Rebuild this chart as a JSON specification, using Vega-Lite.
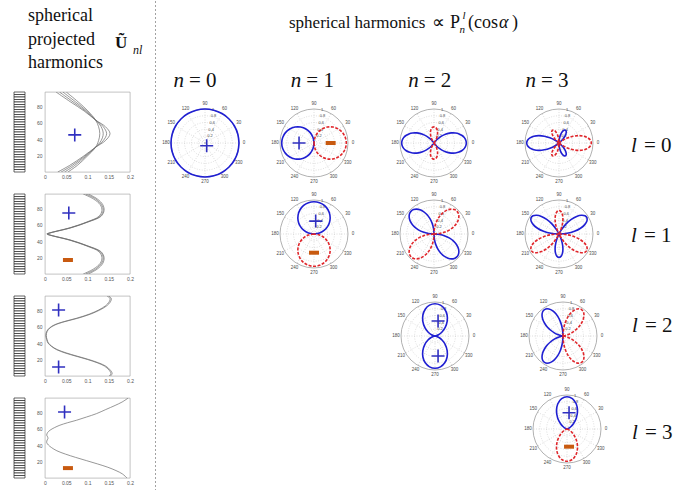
{
"$schema": "https://vega.github.io/schema/vega-lite/v6.json",
"padding": 0,
"background": "white",
"config": {"view": {"stroke": null}, "font": "Liberation Serif"},
"datasets": {
"rings": [{"r":0.2,"x":0,"y":0},{"r":0.4,"x":0,"y":0},{"r":0.6,"x":0,"y":0},{"r":0.8,"x":0,"y":0}],
"rim": [{"r":1,"x":0,"y":0}],
"spokes": [{"x":0,"y":0,"x2":1,"y2":0},{"x":0,"y":0,"x2":0.866,"y2":0.5},{"x":0,"y":0,"x2":0.5,"y2":0.866},{"x":0,"y":0,"x2":0,"y2":1},{"x":0,"y":0,"x2":-0.5,"y2":0.866},{"x":0,"y":0,"x2":-0.866,"y2":0.5},{"x":0,"y":0,"x2":-1,"y2":0},{"x":0,"y":0,"x2":-0.866,"y2":-0.5},{"x":0,"y":0,"x2":-0.5,"y2":-0.866},{"x":0,"y":0,"x2":0,"y2":-1},{"x":0,"y":0,"x2":0.5,"y2":-0.866},{"x":0,"y":0,"x2":0.866,"y2":-0.5}],
"alab": [{"t":"0","x":1.15,"y":0},{"t":"30","x":0.996,"y":0.575},{"t":"60","x":0.575,"y":0.996},{"t":"90","x":0,"y":1.15},{"t":"120","x":-0.575,"y":0.996},{"t":"150","x":-0.996,"y":0.575},{"t":"180","x":-1.15,"y":0},{"t":"210","x":-0.996,"y":-0.575},{"t":"240","x":-0.575,"y":-0.996},{"t":"270","x":0,"y":-1.15},{"t":"300","x":0.575,"y":-0.996},{"t":"330","x":0.996,"y":-0.575}],
"rlab": [{"t":"0.2","x":0.035,"y":0.197},{"t":"0.4","x":0.069,"y":0.394},{"t":"0.6","x":0.104,"y":0.591},{"t":"0.8","x":0.139,"y":0.788},{"t":"1","x":0.174,"y":0.985}],
"pos": [
{"p":"00","g":"a","x":1,"y":0},{"p":"00","g":"a","x":0.966,"y":0.259},{"p":"00","g":"a","x":0.866,"y":0.5},{"p":"00","g":"a","x":0.707,"y":0.707},{"p":"00","g":"a","x":0.5,"y":0.866},{"p":"00","g":"a","x":0.259,"y":0.966},{"p":"00","g":"a","x":0,"y":1},{"p":"00","g":"a","x":-0.259,"y":0.966},{"p":"00","g":"a","x":-0.5,"y":0.866},{"p":"00","g":"a","x":-0.707,"y":0.707},{"p":"00","g":"a","x":-0.866,"y":0.5},{"p":"00","g":"a","x":-0.966,"y":0.259},{"p":"00","g":"a","x":-1,"y":0},{"p":"00","g":"a","x":-0.966,"y":-0.259},{"p":"00","g":"a","x":-0.866,"y":-0.5},{"p":"00","g":"a","x":-0.707,"y":-0.707},{"p":"00","g":"a","x":-0.5,"y":-0.866},{"p":"00","g":"a","x":-0.259,"y":-0.966},{"p":"00","g":"a","x":0,"y":-1},{"p":"00","g":"a","x":0.259,"y":-0.966},{"p":"00","g":"a","x":0.5,"y":-0.866},{"p":"00","g":"a","x":0.707,"y":-0.707},{"p":"00","g":"a","x":0.866,"y":-0.5},{"p":"00","g":"a","x":0.966,"y":-0.259},{"p":"00","g":"a","x":1,"y":0},
{"p":"10","g":"a","x":0,"y":0},{"p":"10","g":"a","x":-0.029,"y":-0.163},{"p":"10","g":"a","x":-0.111,"y":-0.305},{"p":"10","g":"a","x":-0.238,"y":-0.411},{"p":"10","g":"a","x":-0.393,"y":-0.468},{"p":"10","g":"a","x":-0.557,"y":-0.468},{"p":"10","g":"a","x":-0.713,"y":-0.411},{"p":"10","g":"a","x":-0.839,"y":-0.305},{"p":"10","g":"a","x":-0.921,"y":-0.163},{"p":"10","g":"a","x":-0.95,"y":0},{"p":"10","g":"a","x":-0.921,"y":0.163},{"p":"10","g":"a","x":-0.839,"y":0.305},{"p":"10","g":"a","x":-0.713,"y":0.411},{"p":"10","g":"a","x":-0.557,"y":0.468},{"p":"10","g":"a","x":-0.393,"y":0.468},{"p":"10","g":"a","x":-0.238,"y":0.411},{"p":"10","g":"a","x":-0.111,"y":0.305},{"p":"10","g":"a","x":-0.029,"y":0.163},{"p":"10","g":"a","x":0,"y":0},
{"p":"11","g":"a","x":0,"y":0},{"p":"11","g":"a","x":-0.163,"y":0.029},{"p":"11","g":"a","x":-0.305,"y":0.111},{"p":"11","g":"a","x":-0.411,"y":0.238},{"p":"11","g":"a","x":-0.468,"y":0.393},{"p":"11","g":"a","x":-0.468,"y":0.557},{"p":"11","g":"a","x":-0.411,"y":0.713},{"p":"11","g":"a","x":-0.305,"y":0.839},{"p":"11","g":"a","x":-0.163,"y":0.921},{"p":"11","g":"a","x":0,"y":0.95},{"p":"11","g":"a","x":0.163,"y":0.921},{"p":"11","g":"a","x":0.305,"y":0.839},{"p":"11","g":"a","x":0.411,"y":0.713},{"p":"11","g":"a","x":0.468,"y":0.557},{"p":"11","g":"a","x":0.468,"y":0.393},{"p":"11","g":"a","x":0.411,"y":0.238},{"p":"11","g":"a","x":0.305,"y":0.111},{"p":"11","g":"a","x":0.163,"y":0.029},{"p":"11","g":"a","x":0,"y":0},
{"p":"20","g":"a","x":0,"y":0},{"p":"20","g":"a","x":0.073,"y":-0.087},{"p":"20","g":"a","x":0.168,"y":-0.168},{"p":"20","g":"a","x":0.277,"y":-0.232},{"p":"20","g":"a","x":0.394,"y":-0.276},{"p":"20","g":"a","x":0.514,"y":-0.297},{"p":"20","g":"a","x":0.63,"y":-0.294},{"p":"20","g":"a","x":0.736,"y":-0.268},{"p":"20","g":"a","x":0.825,"y":-0.221},{"p":"20","g":"a","x":0.893,"y":-0.158},{"p":"20","g":"a","x":0.935,"y":-0.082},{"p":"20","g":"a","x":0.95,"y":0},{"p":"20","g":"a","x":0.935,"y":0.082},{"p":"20","g":"a","x":0.893,"y":0.158},{"p":"20","g":"a","x":0.825,"y":0.221},{"p":"20","g":"a","x":0.736,"y":0.268},{"p":"20","g":"a","x":0.63,"y":0.294},{"p":"20","g":"a","x":0.514,"y":0.297},{"p":"20","g":"a","x":0.394,"y":0.276},{"p":"20","g":"a","x":0.277,"y":0.232},{"p":"20","g":"a","x":0.168,"y":0.168},{"p":"20","g":"a","x":0.073,"y":0.087},{"p":"20","g":"a","x":0,"y":0},
{"p":"20","g":"b","x":0,"y":0},{"p":"20","g":"b","x":-0.073,"y":-0.087},{"p":"20","g":"b","x":-0.168,"y":-0.168},{"p":"20","g":"b","x":-0.277,"y":-0.232},{"p":"20","g":"b","x":-0.394,"y":-0.276},{"p":"20","g":"b","x":-0.514,"y":-0.297},{"p":"20","g":"b","x":-0.63,"y":-0.294},{"p":"20","g":"b","x":-0.736,"y":-0.268},{"p":"20","g":"b","x":-0.825,"y":-0.221},{"p":"20","g":"b","x":-0.893,"y":-0.158},{"p":"20","g":"b","x":-0.935,"y":-0.082},{"p":"20","g":"b","x":-0.95,"y":0},{"p":"20","g":"b","x":-0.935,"y":0.082},{"p":"20","g":"b","x":-0.893,"y":0.158},{"p":"20","g":"b","x":-0.825,"y":0.221},{"p":"20","g":"b","x":-0.736,"y":0.268},{"p":"20","g":"b","x":-0.63,"y":0.294},{"p":"20","g":"b","x":-0.514,"y":0.297},{"p":"20","g":"b","x":-0.394,"y":0.276},{"p":"20","g":"b","x":-0.277,"y":0.232},{"p":"20","g":"b","x":-0.168,"y":0.168},{"p":"20","g":"b","x":-0.073,"y":0.087},{"p":"20","g":"b","x":0,"y":0},
{"p":"21","g":"b","x":0,"y":0},{"p":"21","g":"b","x":-0.164,"y":0.014},{"p":"21","g":"b","x":-0.32,"y":0.056},{"p":"21","g":"b","x":-0.459,"y":0.123},{"p":"21","g":"b","x":-0.574,"y":0.209},{"p":"21","g":"b","x":-0.66,"y":0.308},{"p":"21","g":"b","x":-0.713,"y":0.411},{"p":"21","g":"b","x":-0.731,"y":0.512},{"p":"21","g":"b","x":-0.717,"y":0.601},{"p":"21","g":"b","x":-0.672,"y":0.672},{"p":"21","g":"b","x":-0.601,"y":0.717},{"p":"21","g":"b","x":-0.512,"y":0.731},{"p":"21","g":"b","x":-0.411,"y":0.713},{"p":"21","g":"b","x":-0.308,"y":0.66},{"p":"21","g":"b","x":-0.209,"y":0.574},{"p":"21","g":"b","x":-0.123,"y":0.459},{"p":"21","g":"b","x":-0.056,"y":0.32},{"p":"21","g":"b","x":-0.014,"y":0.164},{"p":"21","g":"b","x":0,"y":0},
{"p":"21","g":"d","x":0,"y":0},{"p":"21","g":"d","x":0.164,"y":-0.014},{"p":"21","g":"d","x":0.32,"y":-0.056},{"p":"21","g":"d","x":0.459,"y":-0.123},{"p":"21","g":"d","x":0.574,"y":-0.209},{"p":"21","g":"d","x":0.66,"y":-0.308},{"p":"21","g":"d","x":0.713,"y":-0.411},{"p":"21","g":"d","x":0.731,"y":-0.512},{"p":"21","g":"d","x":0.717,"y":-0.601},{"p":"21","g":"d","x":0.672,"y":-0.672},{"p":"21","g":"d","x":0.601,"y":-0.717},{"p":"21","g":"d","x":0.512,"y":-0.731},{"p":"21","g":"d","x":0.411,"y":-0.713},{"p":"21","g":"d","x":0.308,"y":-0.66},{"p":"21","g":"d","x":0.209,"y":-0.574},{"p":"21","g":"d","x":0.123,"y":-0.459},{"p":"21","g":"d","x":0.056,"y":-0.32},{"p":"21","g":"d","x":0.014,"y":-0.164},{"p":"21","g":"d","x":0,"y":0},
{"p":"22","g":"a","x":0,"y":0},{"p":"22","g":"a","x":0.028,"y":0.005},{"p":"22","g":"a","x":0.104,"y":0.038},{"p":"22","g":"a","x":0.206,"y":0.119},{"p":"22","g":"a","x":0.301,"y":0.252},{"p":"22","g":"a","x":0.358,"y":0.427},{"p":"22","g":"a","x":0.356,"y":0.617},{"p":"22","g":"a","x":0.287,"y":0.788},{"p":"22","g":"a","x":0.16,"y":0.907},{"p":"22","g":"a","x":0,"y":0.95},{"p":"22","g":"a","x":-0.16,"y":0.907},{"p":"22","g":"a","x":-0.287,"y":0.788},{"p":"22","g":"a","x":-0.356,"y":0.617},{"p":"22","g":"a","x":-0.358,"y":0.427},{"p":"22","g":"a","x":-0.301,"y":0.252},{"p":"22","g":"a","x":-0.206,"y":0.119},{"p":"22","g":"a","x":-0.104,"y":0.038},{"p":"22","g":"a","x":-0.028,"y":0.005},{"p":"22","g":"a","x":0,"y":0},
{"p":"22","g":"b","x":0,"y":0},{"p":"22","g":"b","x":0.028,"y":-0.005},{"p":"22","g":"b","x":0.104,"y":-0.038},{"p":"22","g":"b","x":0.206,"y":-0.119},{"p":"22","g":"b","x":0.301,"y":-0.252},{"p":"22","g":"b","x":0.358,"y":-0.427},{"p":"22","g":"b","x":0.356,"y":-0.617},{"p":"22","g":"b","x":0.287,"y":-0.788},{"p":"22","g":"b","x":0.16,"y":-0.907},{"p":"22","g":"b","x":0,"y":-0.95},{"p":"22","g":"b","x":-0.16,"y":-0.907},{"p":"22","g":"b","x":-0.287,"y":-0.788},{"p":"22","g":"b","x":-0.356,"y":-0.617},{"p":"22","g":"b","x":-0.358,"y":-0.427},{"p":"22","g":"b","x":-0.301,"y":-0.252},{"p":"22","g":"b","x":-0.206,"y":-0.119},{"p":"22","g":"b","x":-0.104,"y":-0.038},{"p":"22","g":"b","x":-0.028,"y":-0.005},{"p":"22","g":"b","x":0,"y":0},
{"p":"30","g":"a","x":0,"y":0},{"p":"30","g":"a","x":-0.113,"y":-0.079},{"p":"30","g":"a","x":-0.267,"y":-0.154},{"p":"30","g":"a","x":-0.432,"y":-0.201},{"p":"30","g":"a","x":-0.594,"y":-0.216},{"p":"30","g":"a","x":-0.738,"y":-0.198},{"p":"30","g":"a","x":-0.852,"y":-0.15},{"p":"30","g":"a","x":-0.925,"y":-0.081},{"p":"30","g":"a","x":-0.95,"y":0},{"p":"30","g":"a","x":-0.925,"y":0.081},{"p":"30","g":"a","x":-0.852,"y":0.15},{"p":"30","g":"a","x":-0.738,"y":0.198},{"p":"30","g":"a","x":-0.594,"y":0.216},{"p":"30","g":"a","x":-0.432,"y":0.201},{"p":"30","g":"a","x":-0.267,"y":0.154},{"p":"30","g":"a","x":-0.113,"y":0.079},{"p":"30","g":"a","x":0,"y":0},
{"p":"30","g":"b","x":0,"y":0},{"p":"30","g":"b","x":0.018,"y":-0.015},{"p":"30","g":"b","x":0.119,"y":-0.119},{"p":"30","g":"b","x":0.183,"y":-0.219},{"p":"30","g":"b","x":0.212,"y":-0.303},{"p":"30","g":"b","x":0.208,"y":-0.36},{"p":"30","g":"b","x":0.179,"y":-0.383},{"p":"30","g":"b","x":0.134,"y":-0.369},{"p":"30","g":"b","x":0.085,"y":-0.316},{"p":"30","g":"b","x":0.041,"y":-0.231},{"p":"30","g":"b","x":0.011,"y":-0.122},{"p":"30","g":"b","x":0,"y":0},
{"p":"30","g":"c","x":0,"y":0},{"p":"30","g":"c","x":0.018,"y":0.015},{"p":"30","g":"c","x":0.119,"y":0.119},{"p":"30","g":"c","x":0.183,"y":0.219},{"p":"30","g":"c","x":0.212,"y":0.303},{"p":"30","g":"c","x":0.208,"y":0.36},{"p":"30","g":"c","x":0.179,"y":0.383},{"p":"30","g":"c","x":0.134,"y":0.369},{"p":"30","g":"c","x":0.085,"y":0.316},{"p":"30","g":"c","x":0.041,"y":0.231},{"p":"30","g":"c","x":0.011,"y":0.122},{"p":"30","g":"c","x":0,"y":0},
{"p":"31","g":"a","x":0,"y":0},{"p":"31","g":"a","x":0.238,"y":0.021},{"p":"31","g":"a","x":0.454,"y":0.08},{"p":"31","g":"a","x":0.632,"y":0.169},{"p":"31","g":"a","x":0.757,"y":0.276},{"p":"31","g":"a","x":0.821,"y":0.383},{"p":"31","g":"a","x":0.822,"y":0.474},{"p":"31","g":"a","x":0.764,"y":0.535},{"p":"31","g":"a","x":0.657,"y":0.551},{"p":"31","g":"a","x":0.518,"y":0.518},{"p":"31","g":"a","x":0.362,"y":0.432},{"p":"31","g":"a","x":0.209,"y":0.299},{"p":"31","g":"a","x":0.075,"y":0.129},{"p":"31","g":"a","x":0,"y":0},
{"p":"31","g":"b","x":0,"y":0},{"p":"31","g":"b","x":-0.238,"y":0.021},{"p":"31","g":"b","x":-0.454,"y":0.08},{"p":"31","g":"b","x":-0.632,"y":0.169},{"p":"31","g":"b","x":-0.757,"y":0.276},{"p":"31","g":"b","x":-0.821,"y":0.383},{"p":"31","g":"b","x":-0.822,"y":0.474},{"p":"31","g":"b","x":-0.764,"y":0.535},{"p":"31","g":"b","x":-0.657,"y":0.551},{"p":"31","g":"b","x":-0.518,"y":0.518},{"p":"31","g":"b","x":-0.362,"y":0.432},{"p":"31","g":"b","x":-0.209,"y":0.299},{"p":"31","g":"b","x":-0.075,"y":0.129},{"p":"31","g":"b","x":0,"y":0},
{"p":"31","g":"c","x":0,"y":0},{"p":"31","g":"c","x":0.028,"y":-0.061},{"p":"31","g":"c","x":0.092,"y":-0.253},{"p":"31","g":"c","x":0.115,"y":-0.428},{"p":"31","g":"c","x":0.1,"y":-0.569},{"p":"31","g":"c","x":0.058,"y":-0.659},{"p":"31","g":"c","x":0,"y":-0.69},{"p":"31","g":"c","x":-0.058,"y":-0.659},{"p":"31","g":"c","x":-0.1,"y":-0.569},{"p":"31","g":"c","x":-0.115,"y":-0.428},{"p":"31","g":"c","x":-0.092,"y":-0.253},{"p":"31","g":"c","x":-0.028,"y":-0.061},{"p":"31","g":"c","x":0,"y":0},
{"p":"32","g":"a","x":0,"y":0},{"p":"32","g":"a","x":-0.019,"y":0.002},{"p":"32","g":"a","x":-0.072,"y":0.013},{"p":"32","g":"a","x":-0.154,"y":0.041},{"p":"32","g":"a","x":-0.255,"y":0.093},{"p":"32","g":"a","x":-0.362,"y":0.169},{"p":"32","g":"a","x":-0.463,"y":0.267},{"p":"32","g":"a","x":-0.545,"y":0.382},{"p":"32","g":"a","x":-0.598,"y":0.502},{"p":"32","g":"a","x":-0.617,"y":0.617},{"p":"32","g":"a","x":-0.598,"y":0.713},{"p":"32","g":"a","x":-0.545,"y":0.778},{"p":"32","g":"a","x":-0.463,"y":0.802},{"p":"32","g":"a","x":-0.362,"y":0.776},{"p":"32","g":"a","x":-0.255,"y":0.7},{"p":"32","g":"a","x":-0.154,"y":0.576},{"p":"32","g":"a","x":-0.072,"y":0.409},{"p":"32","g":"a","x":-0.019,"y":0.213},{"p":"32","g":"a","x":0,"y":0},
{"p":"32","g":"b","x":0,"y":0},{"p":"32","g":"b","x":-0.019,"y":-0.002},{"p":"32","g":"b","x":-0.072,"y":-0.013},{"p":"32","g":"b","x":-0.154,"y":-0.041},{"p":"32","g":"b","x":-0.255,"y":-0.093},{"p":"32","g":"b","x":-0.362,"y":-0.169},{"p":"32","g":"b","x":-0.463,"y":-0.267},{"p":"32","g":"b","x":-0.545,"y":-0.382},{"p":"32","g":"b","x":-0.598,"y":-0.502},{"p":"32","g":"b","x":-0.617,"y":-0.617},{"p":"32","g":"b","x":-0.598,"y":-0.713},{"p":"32","g":"b","x":-0.545,"y":-0.778},{"p":"32","g":"b","x":-0.463,"y":-0.802},{"p":"32","g":"b","x":-0.362,"y":-0.776},{"p":"32","g":"b","x":-0.255,"y":-0.7},{"p":"32","g":"b","x":-0.154,"y":-0.576},{"p":"32","g":"b","x":-0.072,"y":-0.409},{"p":"32","g":"b","x":-0.019,"y":-0.213},{"p":"32","g":"b","x":0,"y":0},
{"p":"33","g":"a","x":0,"y":0},{"p":"33","g":"a","x":0.005,"y":0.001},{"p":"33","g":"a","x":0.036,"y":0.013},{"p":"33","g":"a","x":0.103,"y":0.059},{"p":"33","g":"a","x":0.193,"y":0.162},{"p":"33","g":"a","x":0.275,"y":0.327},{"p":"33","g":"a","x":0.309,"y":0.534},{"p":"33","g":"a","x":0.27,"y":0.741},{"p":"33","g":"a","x":0.158,"y":0.894},{"p":"33","g":"a","x":0,"y":0.95},{"p":"33","g":"a","x":-0.158,"y":0.894},{"p":"33","g":"a","x":-0.27,"y":0.741},{"p":"33","g":"a","x":-0.309,"y":0.534},{"p":"33","g":"a","x":-0.275,"y":0.327},{"p":"33","g":"a","x":-0.193,"y":0.162},{"p":"33","g":"a","x":-0.103,"y":0.059},{"p":"33","g":"a","x":-0.036,"y":0.013},{"p":"33","g":"a","x":-0.005,"y":0.001},{"p":"33","g":"a","x":0,"y":0}
],
"neg": [
{"p":"10","g":"a","x":0,"y":0},{"p":"10","g":"a","x":0.029,"y":-0.163},{"p":"10","g":"a","x":0.111,"y":-0.305},{"p":"10","g":"a","x":0.238,"y":-0.411},{"p":"10","g":"a","x":0.393,"y":-0.468},{"p":"10","g":"a","x":0.557,"y":-0.468},{"p":"10","g":"a","x":0.713,"y":-0.411},{"p":"10","g":"a","x":0.839,"y":-0.305},{"p":"10","g":"a","x":0.921,"y":-0.163},{"p":"10","g":"a","x":0.95,"y":0},{"p":"10","g":"a","x":0.921,"y":0.163},{"p":"10","g":"a","x":0.839,"y":0.305},{"p":"10","g":"a","x":0.713,"y":0.411},{"p":"10","g":"a","x":0.557,"y":0.468},{"p":"10","g":"a","x":0.393,"y":0.468},{"p":"10","g":"a","x":0.238,"y":0.411},{"p":"10","g":"a","x":0.111,"y":0.305},{"p":"10","g":"a","x":0.029,"y":0.163},{"p":"10","g":"a","x":0,"y":0},
{"p":"11","g":"a","x":0,"y":0},{"p":"11","g":"a","x":-0.163,"y":-0.029},{"p":"11","g":"a","x":-0.305,"y":-0.111},{"p":"11","g":"a","x":-0.411,"y":-0.238},{"p":"11","g":"a","x":-0.468,"y":-0.393},{"p":"11","g":"a","x":-0.468,"y":-0.557},{"p":"11","g":"a","x":-0.411,"y":-0.713},{"p":"11","g":"a","x":-0.305,"y":-0.839},{"p":"11","g":"a","x":-0.163,"y":-0.921},{"p":"11","g":"a","x":0,"y":-0.95},{"p":"11","g":"a","x":0.163,"y":-0.921},{"p":"11","g":"a","x":0.305,"y":-0.839},{"p":"11","g":"a","x":0.411,"y":-0.713},{"p":"11","g":"a","x":0.468,"y":-0.557},{"p":"11","g":"a","x":0.468,"y":-0.393},{"p":"11","g":"a","x":0.411,"y":-0.238},{"p":"11","g":"a","x":0.305,"y":-0.111},{"p":"11","g":"a","x":0.163,"y":-0.029},{"p":"11","g":"a","x":0,"y":0},
{"p":"20","g":"a","x":0,"y":0},{"p":"20","g":"a","x":0.06,"y":0.103},{"p":"20","g":"a","x":0.093,"y":0.2},{"p":"20","g":"a","x":0.105,"y":0.289},{"p":"20","g":"a","x":0.098,"y":0.367},{"p":"20","g":"a","x":0.075,"y":0.425},{"p":"20","g":"a","x":0.041,"y":0.462},{"p":"20","g":"a","x":0,"y":0.475},{"p":"20","g":"a","x":-0.041,"y":0.462},{"p":"20","g":"a","x":-0.075,"y":0.425},{"p":"20","g":"a","x":-0.098,"y":0.367},{"p":"20","g":"a","x":-0.105,"y":0.289},{"p":"20","g":"a","x":-0.093,"y":0.2},{"p":"20","g":"a","x":-0.06,"y":0.103},{"p":"20","g":"a","x":0,"y":0},
{"p":"20","g":"b","x":0,"y":0},{"p":"20","g":"b","x":0.06,"y":-0.103},{"p":"20","g":"b","x":0.093,"y":-0.2},{"p":"20","g":"b","x":0.105,"y":-0.289},{"p":"20","g":"b","x":0.098,"y":-0.367},{"p":"20","g":"b","x":0.075,"y":-0.425},{"p":"20","g":"b","x":0.041,"y":-0.462},{"p":"20","g":"b","x":0,"y":-0.475},{"p":"20","g":"b","x":-0.041,"y":-0.462},{"p":"20","g":"b","x":-0.075,"y":-0.425},{"p":"20","g":"b","x":-0.098,"y":-0.367},{"p":"20","g":"b","x":-0.105,"y":-0.289},{"p":"20","g":"b","x":-0.093,"y":-0.2},{"p":"20","g":"b","x":-0.06,"y":-0.103},{"p":"20","g":"b","x":0,"y":0},
{"p":"21","g":"a","x":0,"y":0},{"p":"21","g":"a","x":0.164,"y":0.014},{"p":"21","g":"a","x":0.32,"y":0.056},{"p":"21","g":"a","x":0.459,"y":0.123},{"p":"21","g":"a","x":0.574,"y":0.209},{"p":"21","g":"a","x":0.66,"y":0.308},{"p":"21","g":"a","x":0.713,"y":0.411},{"p":"21","g":"a","x":0.731,"y":0.512},{"p":"21","g":"a","x":0.717,"y":0.601},{"p":"21","g":"a","x":0.672,"y":0.672},{"p":"21","g":"a","x":0.601,"y":0.717},{"p":"21","g":"a","x":0.512,"y":0.731},{"p":"21","g":"a","x":0.411,"y":0.713},{"p":"21","g":"a","x":0.308,"y":0.66},{"p":"21","g":"a","x":0.209,"y":0.574},{"p":"21","g":"a","x":0.123,"y":0.459},{"p":"21","g":"a","x":0.056,"y":0.32},{"p":"21","g":"a","x":0.014,"y":0.164},{"p":"21","g":"a","x":0,"y":0},
{"p":"21","g":"c","x":0,"y":0},{"p":"21","g":"c","x":-0.164,"y":-0.014},{"p":"21","g":"c","x":-0.32,"y":-0.056},{"p":"21","g":"c","x":-0.459,"y":-0.123},{"p":"21","g":"c","x":-0.574,"y":-0.209},{"p":"21","g":"c","x":-0.66,"y":-0.308},{"p":"21","g":"c","x":-0.713,"y":-0.411},{"p":"21","g":"c","x":-0.731,"y":-0.512},{"p":"21","g":"c","x":-0.717,"y":-0.601},{"p":"21","g":"c","x":-0.672,"y":-0.672},{"p":"21","g":"c","x":-0.601,"y":-0.717},{"p":"21","g":"c","x":-0.512,"y":-0.731},{"p":"21","g":"c","x":-0.411,"y":-0.713},{"p":"21","g":"c","x":-0.308,"y":-0.66},{"p":"21","g":"c","x":-0.209,"y":-0.574},{"p":"21","g":"c","x":-0.123,"y":-0.459},{"p":"21","g":"c","x":-0.056,"y":-0.32},{"p":"21","g":"c","x":-0.014,"y":-0.164},{"p":"21","g":"c","x":0,"y":0},
{"p":"30","g":"a","x":0,"y":0},{"p":"30","g":"a","x":0.113,"y":-0.079},{"p":"30","g":"a","x":0.267,"y":-0.154},{"p":"30","g":"a","x":0.432,"y":-0.201},{"p":"30","g":"a","x":0.594,"y":-0.216},{"p":"30","g":"a","x":0.738,"y":-0.198},{"p":"30","g":"a","x":0.852,"y":-0.15},{"p":"30","g":"a","x":0.925,"y":-0.081},{"p":"30","g":"a","x":0.95,"y":0},{"p":"30","g":"a","x":0.925,"y":0.081},{"p":"30","g":"a","x":0.852,"y":0.15},{"p":"30","g":"a","x":0.738,"y":0.198},{"p":"30","g":"a","x":0.594,"y":0.216},{"p":"30","g":"a","x":0.432,"y":0.201},{"p":"30","g":"a","x":0.267,"y":0.154},{"p":"30","g":"a","x":0.113,"y":0.079},{"p":"30","g":"a","x":0,"y":0},
{"p":"30","g":"b","x":0,"y":0},{"p":"30","g":"b","x":-0.018,"y":0.015},{"p":"30","g":"b","x":-0.119,"y":0.119},{"p":"30","g":"b","x":-0.183,"y":0.219},{"p":"30","g":"b","x":-0.212,"y":0.303},{"p":"30","g":"b","x":-0.208,"y":0.36},{"p":"30","g":"b","x":-0.179,"y":0.383},{"p":"30","g":"b","x":-0.134,"y":0.369},{"p":"30","g":"b","x":-0.085,"y":0.316},{"p":"30","g":"b","x":-0.041,"y":0.231},{"p":"30","g":"b","x":-0.011,"y":0.122},{"p":"30","g":"b","x":0,"y":0},
{"p":"30","g":"c","x":0,"y":0},{"p":"30","g":"c","x":-0.018,"y":-0.015},{"p":"30","g":"c","x":-0.119,"y":-0.119},{"p":"30","g":"c","x":-0.183,"y":-0.219},{"p":"30","g":"c","x":-0.212,"y":-0.303},{"p":"30","g":"c","x":-0.208,"y":-0.36},{"p":"30","g":"c","x":-0.179,"y":-0.383},{"p":"30","g":"c","x":-0.134,"y":-0.369},{"p":"30","g":"c","x":-0.085,"y":-0.316},{"p":"30","g":"c","x":-0.041,"y":-0.231},{"p":"30","g":"c","x":-0.011,"y":-0.122},{"p":"30","g":"c","x":0,"y":0},
{"p":"31","g":"a","x":0,"y":0},{"p":"31","g":"a","x":0.028,"y":0.061},{"p":"31","g":"a","x":0.092,"y":0.253},{"p":"31","g":"a","x":0.115,"y":0.428},{"p":"31","g":"a","x":0.1,"y":0.569},{"p":"31","g":"a","x":0.058,"y":0.659},{"p":"31","g":"a","x":0,"y":0.69},{"p":"31","g":"a","x":-0.058,"y":0.659},{"p":"31","g":"a","x":-0.1,"y":0.569},{"p":"31","g":"a","x":-0.115,"y":0.428},{"p":"31","g":"a","x":-0.092,"y":0.253},{"p":"31","g":"a","x":-0.028,"y":0.061},{"p":"31","g":"a","x":0,"y":0},
{"p":"31","g":"b","x":0,"y":0},{"p":"31","g":"b","x":0.238,"y":-0.021},{"p":"31","g":"b","x":0.454,"y":-0.08},{"p":"31","g":"b","x":0.632,"y":-0.169},{"p":"31","g":"b","x":0.757,"y":-0.276},{"p":"31","g":"b","x":0.821,"y":-0.383},{"p":"31","g":"b","x":0.822,"y":-0.474},{"p":"31","g":"b","x":0.764,"y":-0.535},{"p":"31","g":"b","x":0.657,"y":-0.551},{"p":"31","g":"b","x":0.518,"y":-0.518},{"p":"31","g":"b","x":0.362,"y":-0.432},{"p":"31","g":"b","x":0.209,"y":-0.299},{"p":"31","g":"b","x":0.075,"y":-0.129},{"p":"31","g":"b","x":0,"y":0},
{"p":"31","g":"c","x":0,"y":0},{"p":"31","g":"c","x":-0.238,"y":-0.021},{"p":"31","g":"c","x":-0.454,"y":-0.08},{"p":"31","g":"c","x":-0.632,"y":-0.169},{"p":"31","g":"c","x":-0.757,"y":-0.276},{"p":"31","g":"c","x":-0.821,"y":-0.383},{"p":"31","g":"c","x":-0.822,"y":-0.474},{"p":"31","g":"c","x":-0.764,"y":-0.535},{"p":"31","g":"c","x":-0.657,"y":-0.551},{"p":"31","g":"c","x":-0.518,"y":-0.518},{"p":"31","g":"c","x":-0.362,"y":-0.432},{"p":"31","g":"c","x":-0.209,"y":-0.299},{"p":"31","g":"c","x":-0.075,"y":-0.129},{"p":"31","g":"c","x":0,"y":0},
{"p":"32","g":"a","x":0,"y":0},{"p":"32","g":"a","x":0.019,"y":0.002},{"p":"32","g":"a","x":0.072,"y":0.013},{"p":"32","g":"a","x":0.154,"y":0.041},{"p":"32","g":"a","x":0.255,"y":0.093},{"p":"32","g":"a","x":0.362,"y":0.169},{"p":"32","g":"a","x":0.463,"y":0.267},{"p":"32","g":"a","x":0.545,"y":0.382},{"p":"32","g":"a","x":0.598,"y":0.502},{"p":"32","g":"a","x":0.617,"y":0.617},{"p":"32","g":"a","x":0.598,"y":0.713},{"p":"32","g":"a","x":0.545,"y":0.778},{"p":"32","g":"a","x":0.463,"y":0.802},{"p":"32","g":"a","x":0.362,"y":0.776},{"p":"32","g":"a","x":0.255,"y":0.7},{"p":"32","g":"a","x":0.154,"y":0.576},{"p":"32","g":"a","x":0.072,"y":0.409},{"p":"32","g":"a","x":0.019,"y":0.213},{"p":"32","g":"a","x":0,"y":0},
{"p":"32","g":"b","x":0,"y":0},{"p":"32","g":"b","x":0.019,"y":-0.002},{"p":"32","g":"b","x":0.072,"y":-0.013},{"p":"32","g":"b","x":0.154,"y":-0.041},{"p":"32","g":"b","x":0.255,"y":-0.093},{"p":"32","g":"b","x":0.362,"y":-0.169},{"p":"32","g":"b","x":0.463,"y":-0.267},{"p":"32","g":"b","x":0.545,"y":-0.382},{"p":"32","g":"b","x":0.598,"y":-0.502},{"p":"32","g":"b","x":0.617,"y":-0.617},{"p":"32","g":"b","x":0.598,"y":-0.713},{"p":"32","g":"b","x":0.545,"y":-0.778},{"p":"32","g":"b","x":0.463,"y":-0.802},{"p":"32","g":"b","x":0.362,"y":-0.776},{"p":"32","g":"b","x":0.255,"y":-0.7},{"p":"32","g":"b","x":0.154,"y":-0.576},{"p":"32","g":"b","x":0.072,"y":-0.409},{"p":"32","g":"b","x":0.019,"y":-0.213},{"p":"32","g":"b","x":0,"y":0},
{"p":"33","g":"a","x":0,"y":0},{"p":"33","g":"a","x":0.005,"y":-0.001},{"p":"33","g":"a","x":0.036,"y":-0.013},{"p":"33","g":"a","x":0.103,"y":-0.059},{"p":"33","g":"a","x":0.193,"y":-0.162},{"p":"33","g":"a","x":0.275,"y":-0.327},{"p":"33","g":"a","x":0.309,"y":-0.534},{"p":"33","g":"a","x":0.27,"y":-0.741},{"p":"33","g":"a","x":0.158,"y":-0.894},{"p":"33","g":"a","x":0,"y":-0.95},{"p":"33","g":"a","x":-0.158,"y":-0.894},{"p":"33","g":"a","x":-0.27,"y":-0.741},{"p":"33","g":"a","x":-0.309,"y":-0.534},{"p":"33","g":"a","x":-0.275,"y":-0.327},{"p":"33","g":"a","x":-0.193,"y":-0.162},{"p":"33","g":"a","x":-0.103,"y":-0.059},{"p":"33","g":"a","x":-0.036,"y":-0.013},{"p":"33","g":"a","x":-0.005,"y":-0.001},{"p":"33","g":"a","x":0,"y":0}
],
"plus": [{"p":"L0","x":0.07,"y":45},{"p":"L1","x":0.056,"y":74},{"p":"L2","x":0.032,"y":80},{"p":"L2","x":0.032,"y":11},{"p":"L3","x":0.046,"y":80},{"p":"00","x":0.05,"y":-0.08},{"p":"10","x":-0.44,"y":0},{"p":"11","x":0.05,"y":0.38},{"p":"22","x":0.09,"y":0.44},{"p":"22","x":0.09,"y":-0.59},{"p":"33","x":0.06,"y":0.48}],
"minus": [{"p":"L1","x":0.054,"y":17},{"p":"L3","x":0.054,"y":12},{"p":"10","x":0.49,"y":0},{"p":"11","x":0,"y":-0.55},{"p":"33","x":0.06,"y":-0.52}],
"cells": [{"k":0},{"k":1},{"k":2},{"k":3},{"k":4},{"k":5},{"k":6},{"k":7},{"k":8},{"k":9},{"k":10},{"k":11},{"k":12},{"k":13},{"k":14},{"k":15},{"k":16},{"k":17},{"k":18},{"k":19},{"k":20},{"k":21},{"k":22},{"k":23},{"k":24},{"k":25},{"k":26},{"k":27},{"k":28},{"k":29},{"k":30},{"k":31}],
"prof": [
{"p":"L0","g":"a","y":97,"x":0.026},{"p":"L0","g":"a","y":85,"x":0.06},{"p":"L0","g":"a","y":74,"x":0.092},{"p":"L0","g":"a","y":63,"x":0.119},{"p":"L0","g":"a","y":55,"x":0.142},{"p":"L0","g":"a","y":46.5,"x":0.153},{"p":"L0","g":"a","y":38,"x":0.142},{"p":"L0","g":"a","y":30,"x":0.119},{"p":"L0","g":"a","y":19,"x":0.09},{"p":"L0","g":"a","y":8,"x":0.058},{"p":"L0","g":"a","y":0,"x":0.03},
{"p":"L0","g":"b","y":97,"x":0.034},{"p":"L0","g":"b","y":85,"x":0.066},{"p":"L0","g":"b","y":74,"x":0.095},{"p":"L0","g":"b","y":63,"x":0.119},{"p":"L0","g":"b","y":55,"x":0.137},{"p":"L0","g":"b","y":46.5,"x":0.145},{"p":"L0","g":"b","y":38,"x":0.137},{"p":"L0","g":"b","y":30,"x":0.119},{"p":"L0","g":"b","y":19,"x":0.093},{"p":"L0","g":"b","y":8,"x":0.064},{"p":"L0","g":"b","y":0,"x":0.038},
{"p":"L0","g":"c","y":97,"x":0.042},{"p":"L0","g":"c","y":85,"x":0.072},{"p":"L0","g":"c","y":74,"x":0.098},{"p":"L0","g":"c","y":63,"x":0.119},{"p":"L0","g":"c","y":55,"x":0.132},{"p":"L0","g":"c","y":46.5,"x":0.137},{"p":"L0","g":"c","y":38,"x":0.132},{"p":"L0","g":"c","y":30,"x":0.119},{"p":"L0","g":"c","y":19,"x":0.096},{"p":"L0","g":"c","y":8,"x":0.07},{"p":"L0","g":"c","y":0,"x":0.046},
{"p":"L0","g":"d","y":97,"x":0.05},{"p":"L0","g":"d","y":85,"x":0.078},{"p":"L0","g":"d","y":74,"x":0.101},{"p":"L0","g":"d","y":63,"x":0.119},{"p":"L0","g":"d","y":55,"x":0.126},{"p":"L0","g":"d","y":46.5,"x":0.129},{"p":"L0","g":"d","y":38,"x":0.126},{"p":"L0","g":"d","y":30,"x":0.119},{"p":"L0","g":"d","y":19,"x":0.099},{"p":"L0","g":"d","y":8,"x":0.076},{"p":"L0","g":"d","y":0,"x":0.054},
{"p":"L1","g":"a","y":97,"x":0.09},{"p":"L1","g":"a","y":91,"x":0.114},{"p":"L1","g":"a","y":84,"x":0.13},{"p":"L1","g":"a","y":77,"x":0.134},{"p":"L1","g":"a","y":70,"x":0.127},{"p":"L1","g":"a","y":63,"x":0.098},{"p":"L1","g":"a","y":56,"x":0.058},{"p":"L1","g":"a","y":50,"x":0.012},{"p":"L1","g":"a","y":48.5,"x":0.004},{"p":"L1","g":"a","y":47,"x":0.012},{"p":"L1","g":"a","y":41,"x":0.058},{"p":"L1","g":"a","y":34,"x":0.098},{"p":"L1","g":"a","y":27,"x":0.127},{"p":"L1","g":"a","y":20,"x":0.134},{"p":"L1","g":"a","y":13,"x":0.13},{"p":"L1","g":"a","y":6,"x":0.114},{"p":"L1","g":"a","y":0,"x":0.09},
{"p":"L1","g":"b","y":97,"x":0.096},{"p":"L1","g":"b","y":91,"x":0.119},{"p":"L1","g":"b","y":84,"x":0.133},{"p":"L1","g":"b","y":77,"x":0.137},{"p":"L1","g":"b","y":70,"x":0.13},{"p":"L1","g":"b","y":63,"x":0.1},{"p":"L1","g":"b","y":56,"x":0.06},{"p":"L1","g":"b","y":50,"x":0.013},{"p":"L1","g":"b","y":48.5,"x":0.005},{"p":"L1","g":"b","y":47,"x":0.013},{"p":"L1","g":"b","y":41,"x":0.06},{"p":"L1","g":"b","y":34,"x":0.1},{"p":"L1","g":"b","y":27,"x":0.13},{"p":"L1","g":"b","y":20,"x":0.137},{"p":"L1","g":"b","y":13,"x":0.133},{"p":"L1","g":"b","y":6,"x":0.119},{"p":"L1","g":"b","y":0,"x":0.096},
{"p":"L1","g":"c","y":97,"x":0.102},{"p":"L1","g":"c","y":91,"x":0.123},{"p":"L1","g":"c","y":84,"x":0.136},{"p":"L1","g":"c","y":77,"x":0.139},{"p":"L1","g":"c","y":70,"x":0.132},{"p":"L1","g":"c","y":63,"x":0.101},{"p":"L1","g":"c","y":56,"x":0.061},{"p":"L1","g":"c","y":50,"x":0.014},{"p":"L1","g":"c","y":48.5,"x":0.006},{"p":"L1","g":"c","y":47,"x":0.014},{"p":"L1","g":"c","y":41,"x":0.061},{"p":"L1","g":"c","y":34,"x":0.101},{"p":"L1","g":"c","y":27,"x":0.132},{"p":"L1","g":"c","y":20,"x":0.139},{"p":"L1","g":"c","y":13,"x":0.136},{"p":"L1","g":"c","y":6,"x":0.123},{"p":"L1","g":"c","y":0,"x":0.102},
{"p":"L2","g":"a","y":97,"x":0.146},{"p":"L2","g":"a","y":94,"x":0.153},{"p":"L2","g":"a","y":90,"x":0.151},{"p":"L2","g":"a","y":85,"x":0.142},{"p":"L2","g":"a","y":80,"x":0.126},{"p":"L2","g":"a","y":75,"x":0.104},{"p":"L2","g":"a","y":70,"x":0.074},{"p":"L2","g":"a","y":66,"x":0.045},{"p":"L2","g":"a","y":62,"x":0.022},{"p":"L2","g":"a","y":58,"x":0.01},{"p":"L2","g":"a","y":54,"x":0.004},{"p":"L2","g":"a","y":49,"x":0.002},{"p":"L2","g":"a","y":44,"x":0.004},{"p":"L2","g":"a","y":40,"x":0.007},{"p":"L2","g":"a","y":36,"x":0.015},{"p":"L2","g":"a","y":32,"x":0.027},{"p":"L2","g":"a","y":28,"x":0.047},{"p":"L2","g":"a","y":24,"x":0.073},{"p":"L2","g":"a","y":20,"x":0.1},{"p":"L2","g":"a","y":16,"x":0.123},{"p":"L2","g":"a","y":12,"x":0.14},{"p":"L2","g":"a","y":7,"x":0.151},{"p":"L2","g":"a","y":3,"x":0.155},{"p":"L2","g":"a","y":0,"x":0.151},
{"p":"L2","g":"b","y":97,"x":0.15},{"p":"L2","g":"b","y":94,"x":0.156},{"p":"L2","g":"b","y":90,"x":0.154},{"p":"L2","g":"b","y":85,"x":0.145},{"p":"L2","g":"b","y":80,"x":0.129},{"p":"L2","g":"b","y":75,"x":0.107},{"p":"L2","g":"b","y":70,"x":0.077},{"p":"L2","g":"b","y":66,"x":0.047},{"p":"L2","g":"b","y":62,"x":0.024},{"p":"L2","g":"b","y":58,"x":0.011},{"p":"L2","g":"b","y":54,"x":0.005},{"p":"L2","g":"b","y":49,"x":0.003},{"p":"L2","g":"b","y":44,"x":0.005},{"p":"L2","g":"b","y":40,"x":0.008},{"p":"L2","g":"b","y":36,"x":0.016},{"p":"L2","g":"b","y":32,"x":0.029},{"p":"L2","g":"b","y":28,"x":0.05},{"p":"L2","g":"b","y":24,"x":0.076},{"p":"L2","g":"b","y":20,"x":0.103},{"p":"L2","g":"b","y":16,"x":0.126},{"p":"L2","g":"b","y":12,"x":0.143},{"p":"L2","g":"b","y":7,"x":0.154},{"p":"L2","g":"b","y":3,"x":0.158},{"p":"L2","g":"b","y":0,"x":0.154},
{"p":"L3","g":"a","y":97,"x":0.196},{"p":"L3","g":"a","y":92,"x":0.181},{"p":"L3","g":"a","y":88,"x":0.165},{"p":"L3","g":"a","y":83,"x":0.143},{"p":"L3","g":"a","y":78,"x":0.121},{"p":"L3","g":"a","y":74,"x":0.098},{"p":"L3","g":"a","y":70,"x":0.074},{"p":"L3","g":"a","y":67,"x":0.053},{"p":"L3","g":"a","y":64,"x":0.035},{"p":"L3","g":"a","y":61,"x":0.022},{"p":"L3","g":"a","y":58,"x":0.012},{"p":"L3","g":"a","y":55,"x":0.006},{"p":"L3","g":"a","y":52,"x":0.004},{"p":"L3","g":"a","y":50,"x":0.006},{"p":"L3","g":"a","y":48,"x":0.007},{"p":"L3","g":"a","y":46,"x":0.005},{"p":"L3","g":"a","y":43,"x":0.004},{"p":"L3","g":"a","y":40,"x":0.008},{"p":"L3","g":"a","y":37,"x":0.015},{"p":"L3","g":"a","y":33,"x":0.028},{"p":"L3","g":"a","y":29,"x":0.048},{"p":"L3","g":"a","y":25,"x":0.072},{"p":"L3","g":"a","y":21,"x":0.098},{"p":"L3","g":"a","y":17,"x":0.124},{"p":"L3","g":"a","y":13,"x":0.148},{"p":"L3","g":"a","y":9,"x":0.167},{"p":"L3","g":"a","y":5,"x":0.182},{"p":"L3","g":"a","y":0,"x":0.193}
]
},
"spacing": 0,
"hconcat": [
{"vconcat": [
 {"width":155,"height":77,"data":{"values":[{}]},"layer":[
  {"mark":{"type":"text","text":"spherical","fontSize":18,"align":"left","baseline":"alphabetic","dx":-49.5,"dy":-18.5,"fill":"#111"}},
  {"mark":{"type":"text","text":"projected","fontSize":18,"align":"left","baseline":"alphabetic","dx":-49.5,"dy":5.5,"fill":"#111"}},
  {"mark":{"type":"text","text":"harmonics","fontSize":18,"align":"left","baseline":"alphabetic","dx":-49.5,"dy":28.5,"fill":"#111"}},
  {"mark":{"type":"text","text":"Ũ","fontSize":17,"fontWeight":"bold","align":"left","baseline":"alphabetic","dx":37.5,"dy":8.5,"fill":"#111"}},
  {"mark":{"type":"text","text":"nl","fontSize":12,"fontStyle":"italic","align":"left","baseline":"alphabetic","dx":55.5,"dy":14.5,"fill":"#111"}}
 ]},
 {"hconcat":[
  {"width":13,"height":80,"data":{"values":[]},"mark":"point"},
  {"width":11,"height":80,"data":{"name":"cells"},"mark":{"type":"rect","fill":"#ffffff","stroke":"#222222","strokeWidth":0.7},"encoding":{"y":{"field":"k","type":"ordinal","axis":null,"scale":{"paddingInner":0,"paddingOuter":0}}}},
  {"width":10,"height":80,"data":{"values":[]},"mark":"point"},
  {"width":85,"height":80,"view":{"stroke":"#9a9a9a","strokeWidth":0.6},
   "encoding":{"x":{"field":"x","type":"quantitative","scale":{"domain":[0,0.2],"nice":false,"zero":false},"axis":{"values":[0,0.05,0.1,0.15,0.2],"format":"~g","labelFontSize":5,"labelColor":"#555555","labelFont":"Liberation Sans","ticks":false,"domain":false,"grid":false,"title":null,"labelPadding":2,"labelFlush":false,"labelOverlap":false}},
               "y":{"field":"y","type":"quantitative","scale":{"domain":[0,97],"nice":false,"zero":false},"axis":{"values":[20,40,60,80],"labelFontSize":5,"labelColor":"#555555","labelFont":"Liberation Sans","ticks":false,"domain":false,"grid":false,"title":null,"labelPadding":3,"labelFlush":false,"labelOverlap":false}}},
   "layer":[
    {"data":{"name":"prof"},"transform":[{"filter":{"field":"p","equal":"L0"}}],"mark":{"type":"line","interpolate":"catmull-rom","stroke":"#6a6a6a","strokeWidth":0.7,"clip":true},"encoding":{"detail":{"field":"g","type":"nominal"},"order":{"value":null}}},
    {"data":{"name":"plus"},"transform":[{"filter":{"field":"p","equal":"L0"}}],"mark":{"type":"point","shape":"M-1,0L1,0M0,-1L0,1","filled":false,"opacity":1,"stroke":"#3030c0","strokeWidth":1.6,"size":169}},
    {"data":{"name":"minus"},"transform":[{"filter":{"field":"p","equal":"L0"}}],"mark":{"type":"point","shape":"M-1,-0.4L1,-0.4L1,0.4L-1,0.4Z","filled":true,"opacity":1,"fill":"#c85a10","size":100}}
   ]}
 ],"spacing":0},
 {"hconcat":[
  {"width":13,"height":80,"data":{"values":[]},"mark":"point"},
  {"width":11,"height":80,"data":{"name":"cells"},"mark":{"type":"rect","fill":"#ffffff","stroke":"#222222","strokeWidth":0.7},"encoding":{"y":{"field":"k","type":"ordinal","axis":null,"scale":{"paddingInner":0,"paddingOuter":0}}}},
  {"width":10,"height":80,"data":{"values":[]},"mark":"point"},
  {"width":85,"height":80,"view":{"stroke":"#9a9a9a","strokeWidth":0.6},
   "encoding":{"x":{"field":"x","type":"quantitative","scale":{"domain":[0,0.2],"nice":false,"zero":false},"axis":{"values":[0,0.05,0.1,0.15,0.2],"format":"~g","labelFontSize":5,"labelColor":"#555555","labelFont":"Liberation Sans","ticks":false,"domain":false,"grid":false,"title":null,"labelPadding":2,"labelFlush":false,"labelOverlap":false}},
               "y":{"field":"y","type":"quantitative","scale":{"domain":[0,97],"nice":false,"zero":false},"axis":{"values":[20,40,60,80],"labelFontSize":5,"labelColor":"#555555","labelFont":"Liberation Sans","ticks":false,"domain":false,"grid":false,"title":null,"labelPadding":3,"labelFlush":false,"labelOverlap":false}}},
   "layer":[
    {"data":{"name":"prof"},"transform":[{"filter":{"field":"p","equal":"L1"}}],"mark":{"type":"line","interpolate":"catmull-rom","stroke":"#6a6a6a","strokeWidth":0.7,"clip":true},"encoding":{"detail":{"field":"g","type":"nominal"},"order":{"value":null}}},
    {"data":{"name":"plus"},"transform":[{"filter":{"field":"p","equal":"L1"}}],"mark":{"type":"point","shape":"M-1,0L1,0M0,-1L0,1","filled":false,"opacity":1,"stroke":"#3030c0","strokeWidth":1.6,"size":169}},
    {"data":{"name":"minus"},"transform":[{"filter":{"field":"p","equal":"L1"}}],"mark":{"type":"point","shape":"M-1,-0.4L1,-0.4L1,0.4L-1,0.4Z","filled":true,"opacity":1,"fill":"#c85a10","size":100}}
   ]}
 ],"spacing":0},
 {"hconcat":[
  {"width":13,"height":80,"data":{"values":[]},"mark":"point"},
  {"width":11,"height":80,"data":{"name":"cells"},"mark":{"type":"rect","fill":"#ffffff","stroke":"#222222","strokeWidth":0.7},"encoding":{"y":{"field":"k","type":"ordinal","axis":null,"scale":{"paddingInner":0,"paddingOuter":0}}}},
  {"width":10,"height":80,"data":{"values":[]},"mark":"point"},
  {"width":85,"height":80,"view":{"stroke":"#9a9a9a","strokeWidth":0.6},
   "encoding":{"x":{"field":"x","type":"quantitative","scale":{"domain":[0,0.2],"nice":false,"zero":false},"axis":{"values":[0,0.05,0.1,0.15,0.2],"format":"~g","labelFontSize":5,"labelColor":"#555555","labelFont":"Liberation Sans","ticks":false,"domain":false,"grid":false,"title":null,"labelPadding":2,"labelFlush":false,"labelOverlap":false}},
               "y":{"field":"y","type":"quantitative","scale":{"domain":[0,97],"nice":false,"zero":false},"axis":{"values":[20,40,60,80],"labelFontSize":5,"labelColor":"#555555","labelFont":"Liberation Sans","ticks":false,"domain":false,"grid":false,"title":null,"labelPadding":3,"labelFlush":false,"labelOverlap":false}}},
   "layer":[
    {"data":{"name":"prof"},"transform":[{"filter":{"field":"p","equal":"L2"}}],"mark":{"type":"line","interpolate":"catmull-rom","stroke":"#6a6a6a","strokeWidth":0.7,"clip":true},"encoding":{"detail":{"field":"g","type":"nominal"},"order":{"value":null}}},
    {"data":{"name":"plus"},"transform":[{"filter":{"field":"p","equal":"L2"}}],"mark":{"type":"point","shape":"M-1,0L1,0M0,-1L0,1","filled":false,"opacity":1,"stroke":"#3030c0","strokeWidth":1.6,"size":169}},
    {"data":{"name":"minus"},"transform":[{"filter":{"field":"p","equal":"L2"}}],"mark":{"type":"point","shape":"M-1,-0.4L1,-0.4L1,0.4L-1,0.4Z","filled":true,"opacity":1,"fill":"#c85a10","size":100}}
   ]}
 ],"spacing":0},
 {"hconcat":[
  {"width":13,"height":80,"data":{"values":[]},"mark":"point"},
  {"width":11,"height":80,"data":{"name":"cells"},"mark":{"type":"rect","fill":"#ffffff","stroke":"#222222","strokeWidth":0.7},"encoding":{"y":{"field":"k","type":"ordinal","axis":null,"scale":{"paddingInner":0,"paddingOuter":0}}}},
  {"width":10,"height":80,"data":{"values":[]},"mark":"point"},
  {"width":85,"height":80,"view":{"stroke":"#9a9a9a","strokeWidth":0.6},
   "encoding":{"x":{"field":"x","type":"quantitative","scale":{"domain":[0,0.2],"nice":false,"zero":false},"axis":{"values":[0,0.05,0.1,0.15,0.2],"format":"~g","labelFontSize":5,"labelColor":"#555555","labelFont":"Liberation Sans","ticks":false,"domain":false,"grid":false,"title":null,"labelPadding":2,"labelFlush":false,"labelOverlap":false}},
               "y":{"field":"y","type":"quantitative","scale":{"domain":[0,97],"nice":false,"zero":false},"axis":{"values":[20,40,60,80],"labelFontSize":5,"labelColor":"#555555","labelFont":"Liberation Sans","ticks":false,"domain":false,"grid":false,"title":null,"labelPadding":3,"labelFlush":false,"labelOverlap":false}}},
   "layer":[
    {"data":{"name":"prof"},"transform":[{"filter":{"field":"p","equal":"L3"}}],"mark":{"type":"line","interpolate":"catmull-rom","stroke":"#6a6a6a","strokeWidth":0.7,"clip":true},"encoding":{"detail":{"field":"g","type":"nominal"},"order":{"value":null}}},
    {"data":{"name":"plus"},"transform":[{"filter":{"field":"p","equal":"L3"}}],"mark":{"type":"point","shape":"M-1,0L1,0M0,-1L0,1","filled":false,"opacity":1,"stroke":"#3030c0","strokeWidth":1.6,"size":169}},
    {"data":{"name":"minus"},"transform":[{"filter":{"field":"p","equal":"L3"}}],"mark":{"type":"point","shape":"M-1,-0.4L1,-0.4L1,0.4L-1,0.4Z","filled":true,"opacity":1,"fill":"#c85a10","size":100}}
   ]}
 ],"spacing":0}
],"spacing":13},
{"width":1,"height":490,"data":{"values":[{"v":0}]},"mark":{"type":"rule","stroke":"#8a8a8a","strokeWidth":0.8,"strokeDash":[2,2]},"encoding":{"x":{"field":"v","type":"quantitative","scale":{"domain":[-1,1]},"axis":null}}},
{"vconcat": [
 {"width":519,"height":54,"data":{"values":[{}]},"layer":[
  {"mark":{"type":"text","text":"spherical harmonics","fontSize":17,"align":"left","baseline":"alphabetic","dx":-126.5,"dy":0,"fill":"#111"}},
  {"mark":{"type":"text","text":"∝","fontSize":18,"align":"center","baseline":"alphabetic","dx":23,"dy":0,"fill":"#111"}},
  {"mark":{"type":"text","text":"P","fontSize":18,"align":"left","baseline":"alphabetic","dx":34.5,"dy":0,"fill":"#111"}},
  {"mark":{"type":"text","text":"l","fontSize":11,"fontStyle":"italic","align":"left","baseline":"alphabetic","dx":47,"dy":-9,"fill":"#111"}},
  {"mark":{"type":"text","text":"n","fontSize":11,"fontStyle":"italic","align":"left","baseline":"alphabetic","dx":44,"dy":5,"fill":"#111"}},
  {"mark":{"type":"text","text":"(cos","fontSize":18,"align":"left","baseline":"alphabetic","dx":52.5,"dy":0,"fill":"#111"}},
  {"mark":{"type":"text","text":"α","fontSize":18,"fontStyle":"italic","align":"left","baseline":"alphabetic","dx":83.5,"dy":0,"fill":"#111"}},
  {"mark":{"type":"text","text":")","fontSize":18,"align":"left","baseline":"alphabetic","dx":96.5,"dy":0,"fill":"#111"}}
 ]},
 {"width":519,"height":44,"data":{"values":[{"n":0,"v":"= 0"},{"n":1,"v":"= 1"},{"n":2,"v":"= 2"},{"n":3,"v":"= 3"}]},
  "encoding":{"x":{"field":"n","type":"ordinal","scale":{"type":"point","range":[41,393],"padding":0},"axis":null}},
  "layer":[
   {"mark":{"type":"text","text":"n","fontSize":21,"fontStyle":"italic","align":"right","baseline":"alphabetic","dx":-13,"dy":10,"fill":"#111"}},
   {"mark":{"type":"text","fontSize":21,"align":"left","baseline":"alphabetic","dx":-8,"dy":10,"fill":"#111"},"encoding":{"text":{"field":"v","type":"nominal"}}}
  ]},
 {"hconcat":[
  {"width":5,"height":1,"data":{"values":[]},"mark":"point"},
  {"width":88,"height":88,"encoding":{"x":{"field":"x","type":"quantitative","scale":{"domain":[-1.294,1.294],"nice":false,"zero":false},"axis":null},"y":{"field":"y","type":"quantitative","scale":{"domain":[-1.294,1.294],"nice":false,"zero":false},"axis":null}},"layer":[
   {"data":{"name":"rings"},"mark":{"type":"point","shape":"circle","filled":false,"opacity":1,"stroke":"#bdbdbd","strokeWidth":0.5,"strokeDash":[1,1.5]},"encoding":{"size":{"field":"r","type":"quantitative","scale":{"type":"pow","exponent":2,"domain":[0,1],"range":[0,4624]},"legend":null}}},
   {"data":{"name":"rim"},"mark":{"type":"point","shape":"circle","filled":false,"opacity":1,"stroke":"#8f8f8f","strokeWidth":0.7},"encoding":{"size":{"field":"r","type":"quantitative","scale":{"type":"pow","exponent":2,"domain":[0,1],"range":[0,4624]},"legend":null}}},
   {"data":{"name":"spokes"},"mark":{"type":"rule","stroke":"#bdbdbd","strokeWidth":0.5,"strokeDash":[1,1.5]},"encoding":{"x2":{"field":"x2"},"y2":{"field":"y2"}}},
   {"data":{"name":"alab"},"mark":{"type":"text","font":"Liberation Sans","fontSize":4.5,"fill":"#4a4a4a"},"encoding":{"text":{"field":"t","type":"nominal"}}},
   {"data":{"name":"rlab"},"mark":{"type":"text","font":"Liberation Sans","fontSize":4,"fill":"#4a4a4a","align":"left","dx":1},"encoding":{"text":{"field":"t","type":"nominal"}}},
   {"data":{"name":"pos"},"transform":[{"filter":{"field":"p","equal":"00"}}],"mark":{"type":"line","interpolate":"catmull-rom","stroke":"#1f1fd2","strokeWidth":1.6},"encoding":{"detail":{"field":"g","type":"nominal"},"order":{"value":null}}},
   {"data":{"name":"plus"},"transform":[{"filter":{"field":"p","equal":"00"}}],"mark":{"type":"point","shape":"M-1,0L1,0M0,-1L0,1","filled":false,"opacity":1,"stroke":"#3030c0","strokeWidth":1.6,"size":169}}
  ]},
  {"width":21,"height":1,"data":{"values":[]},"mark":"point"},
  {"width":88,"height":88,"encoding":{"x":{"field":"x","type":"quantitative","scale":{"domain":[-1.294,1.294],"nice":false,"zero":false},"axis":null},"y":{"field":"y","type":"quantitative","scale":{"domain":[-1.294,1.294],"nice":false,"zero":false},"axis":null}},"layer":[
   {"data":{"name":"rings"},"mark":{"type":"point","shape":"circle","filled":false,"opacity":1,"stroke":"#bdbdbd","strokeWidth":0.5,"strokeDash":[1,1.5]},"encoding":{"size":{"field":"r","type":"quantitative","scale":{"type":"pow","exponent":2,"domain":[0,1],"range":[0,4624]},"legend":null}}},
   {"data":{"name":"rim"},"mark":{"type":"point","shape":"circle","filled":false,"opacity":1,"stroke":"#8f8f8f","strokeWidth":0.7},"encoding":{"size":{"field":"r","type":"quantitative","scale":{"type":"pow","exponent":2,"domain":[0,1],"range":[0,4624]},"legend":null}}},
   {"data":{"name":"spokes"},"mark":{"type":"rule","stroke":"#bdbdbd","strokeWidth":0.5,"strokeDash":[1,1.5]},"encoding":{"x2":{"field":"x2"},"y2":{"field":"y2"}}},
   {"data":{"name":"alab"},"mark":{"type":"text","font":"Liberation Sans","fontSize":4.5,"fill":"#4a4a4a"},"encoding":{"text":{"field":"t","type":"nominal"}}},
   {"data":{"name":"rlab"},"mark":{"type":"text","font":"Liberation Sans","fontSize":4,"fill":"#4a4a4a","align":"left","dx":1},"encoding":{"text":{"field":"t","type":"nominal"}}},
   {"data":{"name":"pos"},"transform":[{"filter":{"field":"p","equal":"10"}}],"mark":{"type":"line","interpolate":"catmull-rom","stroke":"#1f1fd2","strokeWidth":1.6},"encoding":{"detail":{"field":"g","type":"nominal"},"order":{"value":null}}},
   {"data":{"name":"neg"},"transform":[{"filter":{"field":"p","equal":"10"}}],"mark":{"type":"line","interpolate":"catmull-rom","stroke":"#e0262b","strokeWidth":1.6,"strokeDash":[3,1.5]},"encoding":{"detail":{"field":"g","type":"nominal"},"order":{"value":null}}},
   {"data":{"name":"plus"},"transform":[{"filter":{"field":"p","equal":"10"}}],"mark":{"type":"point","shape":"M-1,0L1,0M0,-1L0,1","filled":false,"opacity":1,"stroke":"#3030c0","strokeWidth":1.6,"size":169}},
   {"data":{"name":"minus"},"transform":[{"filter":{"field":"p","equal":"10"}}],"mark":{"type":"point","shape":"M-1,-0.4L1,-0.4L1,0.4L-1,0.4Z","filled":true,"opacity":1,"fill":"#c85a10","size":100}}
  ]},
  {"width":32,"height":1,"data":{"values":[]},"mark":"point"},
  {"width":88,"height":88,"encoding":{"x":{"field":"x","type":"quantitative","scale":{"domain":[-1.294,1.294],"nice":false,"zero":false},"axis":null},"y":{"field":"y","type":"quantitative","scale":{"domain":[-1.294,1.294],"nice":false,"zero":false},"axis":null}},"layer":[
   {"data":{"name":"rings"},"mark":{"type":"point","shape":"circle","filled":false,"opacity":1,"stroke":"#bdbdbd","strokeWidth":0.5,"strokeDash":[1,1.5]},"encoding":{"size":{"field":"r","type":"quantitative","scale":{"type":"pow","exponent":2,"domain":[0,1],"range":[0,4624]},"legend":null}}},
   {"data":{"name":"rim"},"mark":{"type":"point","shape":"circle","filled":false,"opacity":1,"stroke":"#8f8f8f","strokeWidth":0.7},"encoding":{"size":{"field":"r","type":"quantitative","scale":{"type":"pow","exponent":2,"domain":[0,1],"range":[0,4624]},"legend":null}}},
   {"data":{"name":"spokes"},"mark":{"type":"rule","stroke":"#bdbdbd","strokeWidth":0.5,"strokeDash":[1,1.5]},"encoding":{"x2":{"field":"x2"},"y2":{"field":"y2"}}},
   {"data":{"name":"alab"},"mark":{"type":"text","font":"Liberation Sans","fontSize":4.5,"fill":"#4a4a4a"},"encoding":{"text":{"field":"t","type":"nominal"}}},
   {"data":{"name":"rlab"},"mark":{"type":"text","font":"Liberation Sans","fontSize":4,"fill":"#4a4a4a","align":"left","dx":1},"encoding":{"text":{"field":"t","type":"nominal"}}},
   {"data":{"name":"pos"},"transform":[{"filter":{"field":"p","equal":"20"}}],"mark":{"type":"line","interpolate":"catmull-rom","stroke":"#1f1fd2","strokeWidth":1.6},"encoding":{"detail":{"field":"g","type":"nominal"},"order":{"value":null}}},
   {"data":{"name":"neg"},"transform":[{"filter":{"field":"p","equal":"20"}}],"mark":{"type":"line","interpolate":"catmull-rom","stroke":"#e0262b","strokeWidth":1.6,"strokeDash":[3,1.5]},"encoding":{"detail":{"field":"g","type":"nominal"},"order":{"value":null}}}
  ]},
  {"width":37,"height":1,"data":{"values":[]},"mark":"point"},
  {"width":88,"height":88,"encoding":{"x":{"field":"x","type":"quantitative","scale":{"domain":[-1.294,1.294],"nice":false,"zero":false},"axis":null},"y":{"field":"y","type":"quantitative","scale":{"domain":[-1.294,1.294],"nice":false,"zero":false},"axis":null}},"layer":[
   {"data":{"name":"rings"},"mark":{"type":"point","shape":"circle","filled":false,"opacity":1,"stroke":"#bdbdbd","strokeWidth":0.5,"strokeDash":[1,1.5]},"encoding":{"size":{"field":"r","type":"quantitative","scale":{"type":"pow","exponent":2,"domain":[0,1],"range":[0,4624]},"legend":null}}},
   {"data":{"name":"rim"},"mark":{"type":"point","shape":"circle","filled":false,"opacity":1,"stroke":"#8f8f8f","strokeWidth":0.7},"encoding":{"size":{"field":"r","type":"quantitative","scale":{"type":"pow","exponent":2,"domain":[0,1],"range":[0,4624]},"legend":null}}},
   {"data":{"name":"spokes"},"mark":{"type":"rule","stroke":"#bdbdbd","strokeWidth":0.5,"strokeDash":[1,1.5]},"encoding":{"x2":{"field":"x2"},"y2":{"field":"y2"}}},
   {"data":{"name":"alab"},"mark":{"type":"text","font":"Liberation Sans","fontSize":4.5,"fill":"#4a4a4a"},"encoding":{"text":{"field":"t","type":"nominal"}}},
   {"data":{"name":"rlab"},"mark":{"type":"text","font":"Liberation Sans","fontSize":4,"fill":"#4a4a4a","align":"left","dx":1},"encoding":{"text":{"field":"t","type":"nominal"}}},
   {"data":{"name":"pos"},"transform":[{"filter":{"field":"p","equal":"30"}}],"mark":{"type":"line","interpolate":"catmull-rom","stroke":"#1f1fd2","strokeWidth":1.6},"encoding":{"detail":{"field":"g","type":"nominal"},"order":{"value":null}}},
   {"data":{"name":"neg"},"transform":[{"filter":{"field":"p","equal":"30"}}],"mark":{"type":"line","interpolate":"catmull-rom","stroke":"#e0262b","strokeWidth":1.6,"strokeDash":[3,1.5]},"encoding":{"detail":{"field":"g","type":"nominal"},"order":{"value":null}}}
  ]},
  {"width":28,"height":1,"data":{"values":[]},"mark":"point"},
  {"width":43,"height":91,"data":{"values":[{}]},"layer":[
   {"mark":{"type":"text","text":"l","fontSize":21,"fontStyle":"italic","align":"left","baseline":"middle","dx":-21.5,"dy":1.5,"fill":"#111"}},
   {"mark":{"type":"text","text":"= 0","fontSize":21,"align":"left","baseline":"middle","dx":-8.5,"dy":1.5,"fill":"#111"}}
  ]}
 ],"spacing":0},
 {"hconcat":[
  {"width":114,"height":1,"data":{"values":[]},"mark":"point"},
  {"width":88,"height":88,"encoding":{"x":{"field":"x","type":"quantitative","scale":{"domain":[-1.294,1.294],"nice":false,"zero":false},"axis":null},"y":{"field":"y","type":"quantitative","scale":{"domain":[-1.294,1.294],"nice":false,"zero":false},"axis":null}},"layer":[
   {"data":{"name":"rings"},"mark":{"type":"point","shape":"circle","filled":false,"opacity":1,"stroke":"#bdbdbd","strokeWidth":0.5,"strokeDash":[1,1.5]},"encoding":{"size":{"field":"r","type":"quantitative","scale":{"type":"pow","exponent":2,"domain":[0,1],"range":[0,4624]},"legend":null}}},
   {"data":{"name":"rim"},"mark":{"type":"point","shape":"circle","filled":false,"opacity":1,"stroke":"#8f8f8f","strokeWidth":0.7},"encoding":{"size":{"field":"r","type":"quantitative","scale":{"type":"pow","exponent":2,"domain":[0,1],"range":[0,4624]},"legend":null}}},
   {"data":{"name":"spokes"},"mark":{"type":"rule","stroke":"#bdbdbd","strokeWidth":0.5,"strokeDash":[1,1.5]},"encoding":{"x2":{"field":"x2"},"y2":{"field":"y2"}}},
   {"data":{"name":"alab"},"mark":{"type":"text","font":"Liberation Sans","fontSize":4.5,"fill":"#4a4a4a"},"encoding":{"text":{"field":"t","type":"nominal"}}},
   {"data":{"name":"rlab"},"mark":{"type":"text","font":"Liberation Sans","fontSize":4,"fill":"#4a4a4a","align":"left","dx":1},"encoding":{"text":{"field":"t","type":"nominal"}}},
   {"data":{"name":"pos"},"transform":[{"filter":{"field":"p","equal":"11"}}],"mark":{"type":"line","interpolate":"catmull-rom","stroke":"#1f1fd2","strokeWidth":1.6},"encoding":{"detail":{"field":"g","type":"nominal"},"order":{"value":null}}},
   {"data":{"name":"neg"},"transform":[{"filter":{"field":"p","equal":"11"}}],"mark":{"type":"line","interpolate":"catmull-rom","stroke":"#e0262b","strokeWidth":1.6,"strokeDash":[3,1.5]},"encoding":{"detail":{"field":"g","type":"nominal"},"order":{"value":null}}},
   {"data":{"name":"plus"},"transform":[{"filter":{"field":"p","equal":"11"}}],"mark":{"type":"point","shape":"M-1,0L1,0M0,-1L0,1","filled":false,"opacity":1,"stroke":"#3030c0","strokeWidth":1.6,"size":169}},
   {"data":{"name":"minus"},"transform":[{"filter":{"field":"p","equal":"11"}}],"mark":{"type":"point","shape":"M-1,-0.4L1,-0.4L1,0.4L-1,0.4Z","filled":true,"opacity":1,"fill":"#c85a10","size":100}}
  ]},
  {"width":32,"height":1,"data":{"values":[]},"mark":"point"},
  {"width":88,"height":88,"encoding":{"x":{"field":"x","type":"quantitative","scale":{"domain":[-1.294,1.294],"nice":false,"zero":false},"axis":null},"y":{"field":"y","type":"quantitative","scale":{"domain":[-1.294,1.294],"nice":false,"zero":false},"axis":null}},"layer":[
   {"data":{"name":"rings"},"mark":{"type":"point","shape":"circle","filled":false,"opacity":1,"stroke":"#bdbdbd","strokeWidth":0.5,"strokeDash":[1,1.5]},"encoding":{"size":{"field":"r","type":"quantitative","scale":{"type":"pow","exponent":2,"domain":[0,1],"range":[0,4624]},"legend":null}}},
   {"data":{"name":"rim"},"mark":{"type":"point","shape":"circle","filled":false,"opacity":1,"stroke":"#8f8f8f","strokeWidth":0.7},"encoding":{"size":{"field":"r","type":"quantitative","scale":{"type":"pow","exponent":2,"domain":[0,1],"range":[0,4624]},"legend":null}}},
   {"data":{"name":"spokes"},"mark":{"type":"rule","stroke":"#bdbdbd","strokeWidth":0.5,"strokeDash":[1,1.5]},"encoding":{"x2":{"field":"x2"},"y2":{"field":"y2"}}},
   {"data":{"name":"alab"},"mark":{"type":"text","font":"Liberation Sans","fontSize":4.5,"fill":"#4a4a4a"},"encoding":{"text":{"field":"t","type":"nominal"}}},
   {"data":{"name":"rlab"},"mark":{"type":"text","font":"Liberation Sans","fontSize":4,"fill":"#4a4a4a","align":"left","dx":1},"encoding":{"text":{"field":"t","type":"nominal"}}},
   {"data":{"name":"pos"},"transform":[{"filter":{"field":"p","equal":"21"}}],"mark":{"type":"line","interpolate":"catmull-rom","stroke":"#1f1fd2","strokeWidth":1.6},"encoding":{"detail":{"field":"g","type":"nominal"},"order":{"value":null}}},
   {"data":{"name":"neg"},"transform":[{"filter":{"field":"p","equal":"21"}}],"mark":{"type":"line","interpolate":"catmull-rom","stroke":"#e0262b","strokeWidth":1.6,"strokeDash":[3,1.5]},"encoding":{"detail":{"field":"g","type":"nominal"},"order":{"value":null}}}
  ]},
  {"width":37,"height":1,"data":{"values":[]},"mark":"point"},
  {"width":88,"height":88,"encoding":{"x":{"field":"x","type":"quantitative","scale":{"domain":[-1.294,1.294],"nice":false,"zero":false},"axis":null},"y":{"field":"y","type":"quantitative","scale":{"domain":[-1.294,1.294],"nice":false,"zero":false},"axis":null}},"layer":[
   {"data":{"name":"rings"},"mark":{"type":"point","shape":"circle","filled":false,"opacity":1,"stroke":"#bdbdbd","strokeWidth":0.5,"strokeDash":[1,1.5]},"encoding":{"size":{"field":"r","type":"quantitative","scale":{"type":"pow","exponent":2,"domain":[0,1],"range":[0,4624]},"legend":null}}},
   {"data":{"name":"rim"},"mark":{"type":"point","shape":"circle","filled":false,"opacity":1,"stroke":"#8f8f8f","strokeWidth":0.7},"encoding":{"size":{"field":"r","type":"quantitative","scale":{"type":"pow","exponent":2,"domain":[0,1],"range":[0,4624]},"legend":null}}},
   {"data":{"name":"spokes"},"mark":{"type":"rule","stroke":"#bdbdbd","strokeWidth":0.5,"strokeDash":[1,1.5]},"encoding":{"x2":{"field":"x2"},"y2":{"field":"y2"}}},
   {"data":{"name":"alab"},"mark":{"type":"text","font":"Liberation Sans","fontSize":4.5,"fill":"#4a4a4a"},"encoding":{"text":{"field":"t","type":"nominal"}}},
   {"data":{"name":"rlab"},"mark":{"type":"text","font":"Liberation Sans","fontSize":4,"fill":"#4a4a4a","align":"left","dx":1},"encoding":{"text":{"field":"t","type":"nominal"}}},
   {"data":{"name":"pos"},"transform":[{"filter":{"field":"p","equal":"31"}}],"mark":{"type":"line","interpolate":"catmull-rom","stroke":"#1f1fd2","strokeWidth":1.6},"encoding":{"detail":{"field":"g","type":"nominal"},"order":{"value":null}}},
   {"data":{"name":"neg"},"transform":[{"filter":{"field":"p","equal":"31"}}],"mark":{"type":"line","interpolate":"catmull-rom","stroke":"#e0262b","strokeWidth":1.6,"strokeDash":[3,1.5]},"encoding":{"detail":{"field":"g","type":"nominal"},"order":{"value":null}}}
  ]},
  {"width":28,"height":1,"data":{"values":[]},"mark":"point"},
  {"width":43,"height":102,"data":{"values":[{}]},"layer":[
   {"mark":{"type":"text","text":"l","fontSize":21,"fontStyle":"italic","align":"left","baseline":"middle","dx":-21.5,"dy":-5,"fill":"#111"}},
   {"mark":{"type":"text","text":"= 1","fontSize":21,"align":"left","baseline":"middle","dx":-8.5,"dy":-5,"fill":"#111"}}
  ]}
 ],"spacing":0},
 {"hconcat":[
  {"width":235,"height":1,"data":{"values":[]},"mark":"point"},
  {"width":88,"height":88,"encoding":{"x":{"field":"x","type":"quantitative","scale":{"domain":[-1.294,1.294],"nice":false,"zero":false},"axis":null},"y":{"field":"y","type":"quantitative","scale":{"domain":[-1.294,1.294],"nice":false,"zero":false},"axis":null}},"layer":[
   {"data":{"name":"rings"},"mark":{"type":"point","shape":"circle","filled":false,"opacity":1,"stroke":"#bdbdbd","strokeWidth":0.5,"strokeDash":[1,1.5]},"encoding":{"size":{"field":"r","type":"quantitative","scale":{"type":"pow","exponent":2,"domain":[0,1],"range":[0,4624]},"legend":null}}},
   {"data":{"name":"rim"},"mark":{"type":"point","shape":"circle","filled":false,"opacity":1,"stroke":"#8f8f8f","strokeWidth":0.7},"encoding":{"size":{"field":"r","type":"quantitative","scale":{"type":"pow","exponent":2,"domain":[0,1],"range":[0,4624]},"legend":null}}},
   {"data":{"name":"spokes"},"mark":{"type":"rule","stroke":"#bdbdbd","strokeWidth":0.5,"strokeDash":[1,1.5]},"encoding":{"x2":{"field":"x2"},"y2":{"field":"y2"}}},
   {"data":{"name":"alab"},"mark":{"type":"text","font":"Liberation Sans","fontSize":4.5,"fill":"#4a4a4a"},"encoding":{"text":{"field":"t","type":"nominal"}}},
   {"data":{"name":"rlab"},"mark":{"type":"text","font":"Liberation Sans","fontSize":4,"fill":"#4a4a4a","align":"left","dx":1},"encoding":{"text":{"field":"t","type":"nominal"}}},
   {"data":{"name":"pos"},"transform":[{"filter":{"field":"p","equal":"22"}}],"mark":{"type":"line","interpolate":"catmull-rom","stroke":"#1f1fd2","strokeWidth":1.6},"encoding":{"detail":{"field":"g","type":"nominal"},"order":{"value":null}}},
   {"data":{"name":"plus"},"transform":[{"filter":{"field":"p","equal":"22"}}],"mark":{"type":"point","shape":"M-1,0L1,0M0,-1L0,1","filled":false,"opacity":1,"stroke":"#3030c0","strokeWidth":1.6,"size":169}}
  ]},
  {"width":40,"height":1,"data":{"values":[]},"mark":"point"},
  {"width":88,"height":88,"encoding":{"x":{"field":"x","type":"quantitative","scale":{"domain":[-1.294,1.294],"nice":false,"zero":false},"axis":null},"y":{"field":"y","type":"quantitative","scale":{"domain":[-1.294,1.294],"nice":false,"zero":false},"axis":null}},"layer":[
   {"data":{"name":"rings"},"mark":{"type":"point","shape":"circle","filled":false,"opacity":1,"stroke":"#bdbdbd","strokeWidth":0.5,"strokeDash":[1,1.5]},"encoding":{"size":{"field":"r","type":"quantitative","scale":{"type":"pow","exponent":2,"domain":[0,1],"range":[0,4624]},"legend":null}}},
   {"data":{"name":"rim"},"mark":{"type":"point","shape":"circle","filled":false,"opacity":1,"stroke":"#8f8f8f","strokeWidth":0.7},"encoding":{"size":{"field":"r","type":"quantitative","scale":{"type":"pow","exponent":2,"domain":[0,1],"range":[0,4624]},"legend":null}}},
   {"data":{"name":"spokes"},"mark":{"type":"rule","stroke":"#bdbdbd","strokeWidth":0.5,"strokeDash":[1,1.5]},"encoding":{"x2":{"field":"x2"},"y2":{"field":"y2"}}},
   {"data":{"name":"alab"},"mark":{"type":"text","font":"Liberation Sans","fontSize":4.5,"fill":"#4a4a4a"},"encoding":{"text":{"field":"t","type":"nominal"}}},
   {"data":{"name":"rlab"},"mark":{"type":"text","font":"Liberation Sans","fontSize":4,"fill":"#4a4a4a","align":"left","dx":1},"encoding":{"text":{"field":"t","type":"nominal"}}},
   {"data":{"name":"pos"},"transform":[{"filter":{"field":"p","equal":"32"}}],"mark":{"type":"line","interpolate":"catmull-rom","stroke":"#1f1fd2","strokeWidth":1.6},"encoding":{"detail":{"field":"g","type":"nominal"},"order":{"value":null}}},
   {"data":{"name":"neg"},"transform":[{"filter":{"field":"p","equal":"32"}}],"mark":{"type":"line","interpolate":"catmull-rom","stroke":"#e0262b","strokeWidth":1.6,"strokeDash":[3,1.5]},"encoding":{"detail":{"field":"g","type":"nominal"},"order":{"value":null}}}
  ]},
  {"width":25,"height":1,"data":{"values":[]},"mark":"point"},
  {"width":43,"height":93,"data":{"values":[{}]},"layer":[
   {"mark":{"type":"text","text":"l","fontSize":21,"fontStyle":"italic","align":"left","baseline":"middle","dx":-21.5,"dy":-12.5,"fill":"#111"}},
   {"mark":{"type":"text","text":"= 2","fontSize":21,"align":"left","baseline":"middle","dx":-8.5,"dy":-12.5,"fill":"#111"}}
  ]}
 ],"spacing":0},
 {"hconcat":[
  {"width":367,"height":1,"data":{"values":[]},"mark":"point"},
  {"width":88,"height":88,"encoding":{"x":{"field":"x","type":"quantitative","scale":{"domain":[-1.294,1.294],"nice":false,"zero":false},"axis":null},"y":{"field":"y","type":"quantitative","scale":{"domain":[-1.294,1.294],"nice":false,"zero":false},"axis":null}},"layer":[
   {"data":{"name":"rings"},"mark":{"type":"point","shape":"circle","filled":false,"opacity":1,"stroke":"#bdbdbd","strokeWidth":0.5,"strokeDash":[1,1.5]},"encoding":{"size":{"field":"r","type":"quantitative","scale":{"type":"pow","exponent":2,"domain":[0,1],"range":[0,4624]},"legend":null}}},
   {"data":{"name":"rim"},"mark":{"type":"point","shape":"circle","filled":false,"opacity":1,"stroke":"#8f8f8f","strokeWidth":0.7},"encoding":{"size":{"field":"r","type":"quantitative","scale":{"type":"pow","exponent":2,"domain":[0,1],"range":[0,4624]},"legend":null}}},
   {"data":{"name":"spokes"},"mark":{"type":"rule","stroke":"#bdbdbd","strokeWidth":0.5,"strokeDash":[1,1.5]},"encoding":{"x2":{"field":"x2"},"y2":{"field":"y2"}}},
   {"data":{"name":"alab"},"mark":{"type":"text","font":"Liberation Sans","fontSize":4.5,"fill":"#4a4a4a"},"encoding":{"text":{"field":"t","type":"nominal"}}},
   {"data":{"name":"rlab"},"mark":{"type":"text","font":"Liberation Sans","fontSize":4,"fill":"#4a4a4a","align":"left","dx":1},"encoding":{"text":{"field":"t","type":"nominal"}}},
   {"data":{"name":"pos"},"transform":[{"filter":{"field":"p","equal":"33"}}],"mark":{"type":"line","interpolate":"catmull-rom","stroke":"#1f1fd2","strokeWidth":1.6},"encoding":{"detail":{"field":"g","type":"nominal"},"order":{"value":null}}},
   {"data":{"name":"neg"},"transform":[{"filter":{"field":"p","equal":"33"}}],"mark":{"type":"line","interpolate":"catmull-rom","stroke":"#e0262b","strokeWidth":1.6,"strokeDash":[3,1.5]},"encoding":{"detail":{"field":"g","type":"nominal"},"order":{"value":null}}},
   {"data":{"name":"plus"},"transform":[{"filter":{"field":"p","equal":"33"}}],"mark":{"type":"point","shape":"M-1,0L1,0M0,-1L0,1","filled":false,"opacity":1,"stroke":"#3030c0","strokeWidth":1.6,"size":169}},
   {"data":{"name":"minus"},"transform":[{"filter":{"field":"p","equal":"33"}}],"mark":{"type":"point","shape":"M-1,-0.4L1,-0.4L1,0.4L-1,0.4Z","filled":true,"opacity":1,"fill":"#c85a10","size":100}}
  ]},
  {"width":21,"height":1,"data":{"values":[]},"mark":"point"},
  {"width":43,"height":88,"data":{"values":[{}]},"layer":[
   {"mark":{"type":"text","text":"l","fontSize":21,"fontStyle":"italic","align":"left","baseline":"middle","dx":-21.5,"dy":4,"fill":"#111"}},
   {"mark":{"type":"text","text":"= 3","fontSize":21,"align":"left","baseline":"middle","dx":-8.5,"dy":4,"fill":"#111"}}
  ]}
 ],"spacing":0}
],"spacing":0}
]
}
